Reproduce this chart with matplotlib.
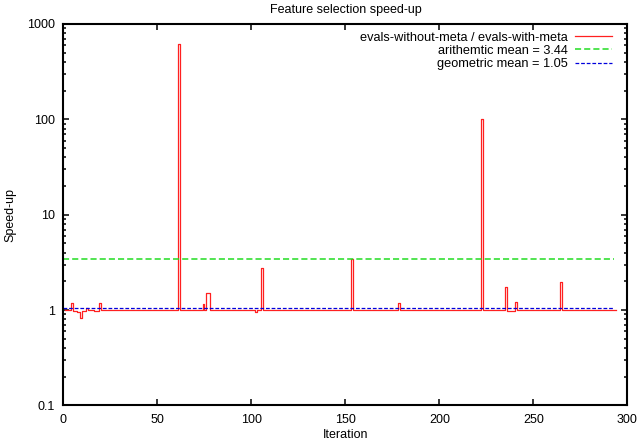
import numpy as np
import matplotlib
matplotlib.use('Agg')
import matplotlib.pyplot as plt
from matplotlib.ticker import LogLocator, FixedLocator, FuncFormatter

plt.rcParams['font.family'] = ['Liberation Sans', 'DejaVu Sans']
plt.rcParams['font.size'] = 9

# speed-up per iteration, as runs of (value, number of iterations), iterations 1..294
run_values = [1.0, 1.2, 0.98, 0.96, 0.82, 0.98, 1.05, 1.0, 0.99, 1.19,
              1.0, 620, 1.0, 1.15, 1.0, 1.53, 1.0, 0.96, 1.0, 2.76,
              1.0, 3.4, 1.0, 1.19, 1.0, 100, 1.0, 1.73, 0.98, 1.21,
              1.0, 1.95, 1.0]
run_lengths = [3, 1, 2, 2, 1, 2, 1, 3, 3, 1,
               41, 1, 12, 1, 1, 2, 24, 1, 2, 1,
               47, 1, 24, 1, 43, 1, 12, 1, 4, 1,
               23, 1, 30]
first_iter = 1

arith_mean = 3.44
geom_mean = 1.05

speedup = np.repeat(run_values, run_lengths)
iters = np.arange(first_iter, first_iter + len(speedup))

fig = plt.figure(figsize=(6.4, 4.41), dpi=100)
ax = fig.add_axes([0.0992, 0.0805, 0.8812, 0.8651])

ax.step(iters, speedup, where='post', color='#ff2020', lw=0.9,
        label='evals-without-meta / evals-with-meta')
ax.hlines(arith_mean, 0, iters[-1] - 1, color='#22dd22', lw=1.1,
          linestyles=(0, (4, 2)), label='arithemtic mean = %.2f' % arith_mean)
ax.hlines(geom_mean, 0, iters[-1] - 1, color='#0000dd', lw=0.9,
          linestyles=(0, (3, 1.5)), label='geometric mean = %.2f' % geom_mean)

ax.set_yscale('log')
ax.set_ylim(0.1, 1000)
ax.set_xlim(0, 300)
ax.xaxis.set_major_locator(FixedLocator([0, 50, 100, 150, 200, 250, 300]))
ax.yaxis.set_major_locator(LogLocator(base=10, numticks=10))
ax.yaxis.set_minor_locator(LogLocator(base=10, subs=np.arange(2, 10), numticks=20))
ax.yaxis.set_major_formatter(FuncFormatter(lambda v, p: '%g' % v))
ax.yaxis.set_minor_formatter(FuncFormatter(lambda v, p: ''))

ax.tick_params(which='both', direction='in', top=True, right=True, width=1.1)
ax.tick_params(which='major', length=4, pad=6)
ax.tick_params(which='minor', length=2.2)
for s in ax.spines.values():
    s.set_linewidth(1.5)

ax.set_title('Feature selection speed-up', fontsize=9, pad=8)
ax.set_xlabel('Iteration', labelpad=2)
ax.set_ylabel('Speed-up', labelpad=8)

ax.legend(loc='upper right', bbox_to_anchor=(0.986, 1.0), frameon=False,
          markerfirst=False, handlelength=2.9, handletextpad=0.55,
          labelspacing=0.1, borderaxespad=0.3, borderpad=0.3, fontsize=9.2)

fig.savefig('out.png', dpi=100)
